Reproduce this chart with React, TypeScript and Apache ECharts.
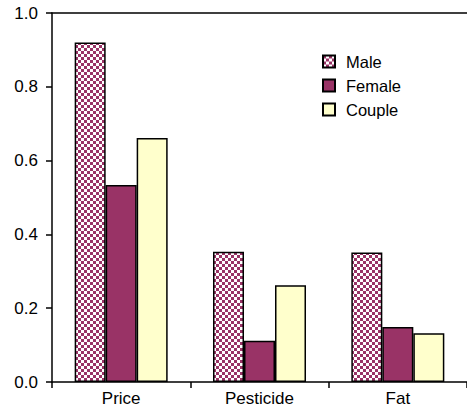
import React, { useEffect, useRef } from "react";
import * as echarts from "echarts";

const categories = ["Price", "Pesticide", "Fat"];
const seriesNames = ["Male", "Female", "Couple"];
const maleValues = [0.92, 0.353, 0.351];
const femaleValues = [0.534, 0.112, 0.149];
const coupleValues = [0.661, 0.262, 0.132];
const yTicks = ["0.0", "0.2", "0.4", "0.6", "0.8", "1.0"];

const MAGENTA = "#993366";
const CREAM = "#FFFFCC";

function makeChecker(): string {
  const c = document.createElement("canvas");
  c.width = 6;
  c.height = 6;
  const ctx = c.getContext("2d")!;
  ctx.fillStyle = "#ffffff";
  ctx.fillRect(0, 0, 6, 6);
  ctx.fillStyle = MAGENTA;
  ctx.fillRect(0, 0, 3, 3);
  ctx.fillRect(3, 3, 3, 3);
  return c.toDataURL();
}

export default function App() {
  const ref = useRef<HTMLDivElement>(null);
  useEffect(() => {
    document.body.style.margin = "0";
    if (!ref.current) return;
    const chart = echarts.init(ref.current, undefined, { renderer: "svg" });
    const font = "'Liberation Sans', Arial, Helvetica, sans-serif";
    const checker = makeChecker();
    const border = { borderColor: "#000", borderWidth: 1.5 };
    chart.setOption({
      animation: false,
      backgroundColor: "#fff",
      textStyle: { fontFamily: font },
      grid: { left: 52, right: 0, top: 13, bottom: 28, containLabel: false },
      legend: {
        orient: "vertical",
        left: 317,
        top: 48,
        itemWidth: 12,
        itemHeight: 12,
        itemGap: 7,
        icon: "rect",
        textStyle: { fontFamily: font, fontSize: 16.5, color: "#000", padding: [0, 0, 0, 6] },
        data: seriesNames,
      },
      xAxis: [
        {
          type: "category",
          data: categories,
          position: "bottom",
          axisLine: { lineStyle: { color: "#000", width: 1.5 } },
          axisTick: { show: true, length: 6, lineStyle: { color: "#000", width: 1.5 } },
          axisLabel: { color: "#000", fontSize: 17, fontFamily: font, margin: 8 },
        },
        {
          type: "category",
          data: categories,
          position: "top",
          axisLine: { lineStyle: { color: "#000", width: 1.5 } },
          axisTick: { show: false },
          axisLabel: { show: false },
        },
      ],
      yAxis: {
        type: "value",
        min: 0,
        max: 1,
        interval: 0.2,
        axisLine: { show: true, lineStyle: { color: "#000", width: 1.5 } },
        axisTick: { show: true, length: 6, lineStyle: { color: "#000", width: 1.5 } },
        splitLine: { show: false },
        axisLabel: {
          color: "#000",
          fontSize: 17,
          fontFamily: font,
          margin: 14,
          formatter: (v: number) => yTicks[Math.round(v / 0.2)] ?? v.toFixed(1),
        },
      },
      series: [
        {
          name: seriesNames[0],
          type: "bar",
          data: maleValues,
          barWidth: 31,
          barGap: "0%",
          itemStyle: {
            color: { image: checker, repeat: "repeat" },
            ...border,
          },
        },
        {
          name: seriesNames[1],
          type: "bar",
          data: femaleValues,
          barWidth: 31,
          barGap: "0%",
          itemStyle: { color: MAGENTA, ...border },
        },
        {
          name: seriesNames[2],
          type: "bar",
          data: coupleValues,
          barWidth: 31,
          barGap: "0%",
          itemStyle: { color: CREAM, ...border },
        },
      ],
    });
    return () => chart.dispose();
  }, []);
  return <div ref={ref} style={{ width: 467, height: 410 }} />;
}
